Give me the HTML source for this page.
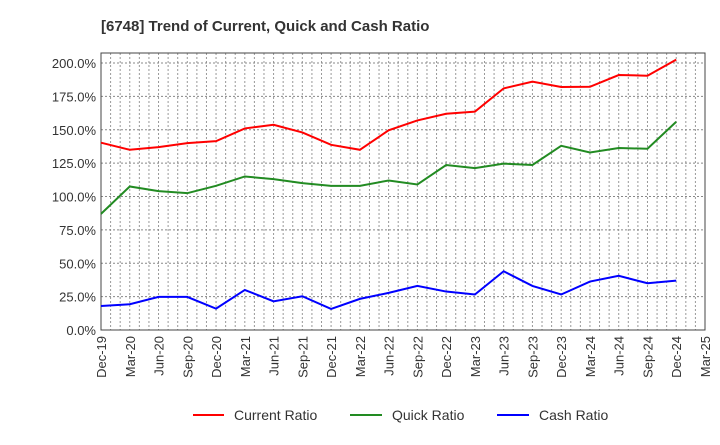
<!DOCTYPE html>
<html><head><meta charset="utf-8"><style>
body{margin:0;background:#fff;font-family:"Liberation Sans",sans-serif;}
svg text{font-family:"Liberation Sans",sans-serif;}
</style></head><body>
<svg id="chart" width="720" height="440">
<text x="101" y="31" font-size="15" font-weight="bold" fill="#333">[6748]  Trend of Current, Quick and Cash Ratio</text>
<g id="grid"></g><g id="axes"></g><g id="series"></g>
<g>
<line x1="193" y1="415" x2="224" y2="415" stroke="#f00" stroke-width="2"/>
<text x="234" y="420" font-size="14" fill="#333">Current Ratio</text>
<line x1="350" y1="415" x2="382" y2="415" stroke="#228b22" stroke-width="2"/>
<text x="392" y="420" font-size="14" fill="#333">Quick Ratio</text>
<line x1="497" y1="415" x2="529" y2="415" stroke="#00f" stroke-width="2"/>
<text x="539" y="420" font-size="14" fill="#333">Cash Ratio</text>
</g>
</svg>
<script>
const categories=["Dec-19","Mar-20","Jun-20","Sep-20","Dec-20","Mar-21","Jun-21","Sep-21","Dec-21","Mar-22","Jun-22","Sep-22","Dec-22","Mar-23","Jun-23","Sep-23","Dec-23","Mar-24","Jun-24","Sep-24","Dec-24","Mar-25"];
const currentRatio=[140.3,135,137,140,141.5,151,153.7,148,138.7,135,149.6,157,162,163.6,181,186,182,182.2,191,190.5,202.5];
const quickRatio=[87,107.5,104,102.5,108,115,113,110,108,108,112,109,123.6,121.3,124.6,123.6,138,133,136.3,135.8,156];
const cashRatio=[18,19.3,24.8,24.8,16,30,21.5,25.3,15.8,23.3,27.8,33,28.8,26.6,44,33,26.6,36.3,40.6,35,37];
const yTicks=[0,25,50,75,100,125,150,175,200];
const L=101,R=705,T=53,B=330,YMAX=207.5;
const ns="http://www.w3.org/2000/svg";
const xs=i=>L+i*(R-L)/(categories.length-1);
const ys=v=>B-v/YMAX*(B-T);
function mk(tag,attrs,parent){const e=document.createElementNS(ns,tag);for(const k in attrs)e.setAttribute(k,attrs[k]);parent.appendChild(e);return e;}
const grid=document.getElementById('grid'),axes=document.getElementById('axes'),series=document.getElementById('series');
for(let m=1;m<(categories.length-1)*3;m++){const x=L+m*(R-L)/((categories.length-1)*3);
const g=mk('line',{x1:x,x2:x,y1:T,y2:B,stroke:'#999','stroke-dasharray':'2,2','stroke-width':1},grid);

}
yTicks.forEach(v=>{const y=ys(v);
const g=mk('line',{x1:L,x2:R,y1:y,y2:y,stroke:'#888','stroke-dasharray':'2,2','stroke-width':1},grid);


const t=mk('text',{x:L-5,y:y+5,'text-anchor':'end','font-size':13,fill:'#333'},axes);t.textContent=v.toFixed(1)+'%';

});
categories.forEach((c,i)=>{const x=xs(i);
const t=mk('text',{transform:`translate(${x+5},${B+6}) rotate(-90)`,'text-anchor':'end','font-size':13,fill:'#333'},axes);t.textContent=c;

});
const box=mk('rect',{x:L,y:T,width:R-L,height:B-T,fill:'none',stroke:'#444','stroke-width':1},axes);


[[currentRatio,'#f00','current-ratio-line'],[quickRatio,'#228b22','quick-ratio-line'],[cashRatio,'#00f','cash-ratio-line']].forEach(([d,c,n])=>{
const p=mk('polyline',{points:d.map((v,i)=>xs(i)+','+ys(v)).join(' '),fill:'none',stroke:c,'stroke-width':2},series);

});
</script>
</body></html>
